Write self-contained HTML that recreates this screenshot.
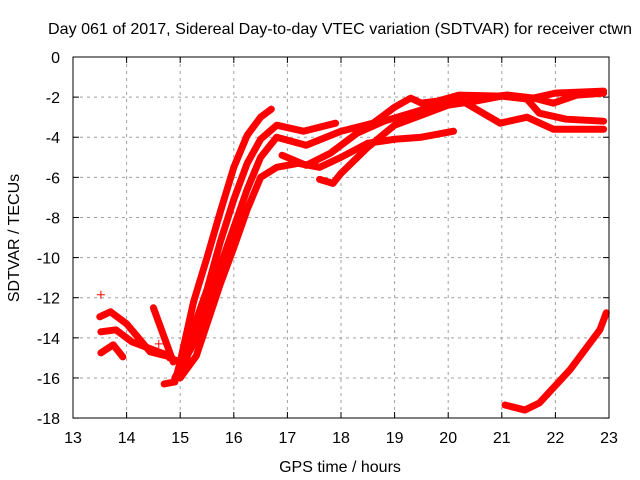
<!DOCTYPE html>
<html><head><meta charset="utf-8"><style>
body{margin:0;background:#fff}
svg{display:block;font-family:"Liberation Sans",sans-serif}
</style></head><body>
<svg id="chart" width="640" height="480">
<text x="340" y="34" font-size="16" text-anchor="middle" textLength="584" lengthAdjust="spacingAndGlyphs">Day 061 of 2017, Sidereal Day-to-day VTEC variation (SDTVAR) for receiver ctwn</text>
<text x="340" y="472" font-size="16" text-anchor="middle">GPS time / hours</text>
<text transform="translate(19,238) rotate(-90)" font-size="16" text-anchor="middle">SDTVAR / TECUs</text>
<g id="grid"></g>
<g id="series"></g>
<rect x="73" y="57" width="536" height="361" fill="none" stroke="#000"/>
<g id="ticks"></g>
</svg>
<script>
const xTicks=[13,14,15,16,17,18,19,20,21,22,23];
const yTicks=[0,-2,-4,-6,-8,-10,-12,-14,-16,-18];
const seriesA=[[14.7,-16.3],[14.9,-16.2],[15.0,-15.2],[15.25,-12.2],[15.5,-10],[15.75,-7.7],[16.0,-5.5],[16.25,-3.9],[16.5,-3.0],[16.7,-2.6]];
const seriesB=[[14.8,-15],[15.1,-15.3],[15.25,-13.5],[15.5,-11.6],[15.75,-9.2],[16.0,-7.1],[16.25,-5.3],[16.5,-4.1],[16.8,-3.4],[17.3,-3.7],[17.9,-3.3]];
const seriesC=[[14.9,-16],[15.25,-14.3],[15.5,-12.5],[15.75,-10.4],[16.0,-8.5],[16.25,-6.6],[16.5,-5.0],[16.8,-4.0],[17.35,-4.4],[18.0,-3.7],[18.6,-3.3],[19.0,-2.5],[19.3,-2.05],[19.5,-2.3],[19.8,-2.2],[20.2,-1.9],[21,-1.95],[21.5,-2.1],[22,-1.8],[22.9,-1.7]];
const seriesD=[[15.0,-16],[15.3,-14.9],[15.5,-13.3],[15.75,-11.3],[16.0,-9.5],[16.25,-7.6],[16.5,-6.0],[16.8,-5.5],[17.2,-5.3],[17.6,-5.5],[18.0,-5.0],[18.5,-4.3],[19,-4.1],[19.5,-4.0],[20.1,-3.7]];
const seriesE=[[16.9,-4.9],[17.35,-5.4],[17.8,-4.8],[18.3,-3.8],[18.8,-3.2],[19.3,-2.8],[19.8,-2.4],[20.2,-2.1],[20.97,-3.3],[21.47,-3.0],[21.96,-3.6],[22.9,-3.6]];
const seriesF=[[17.6,-6.1],[17.85,-6.3],[18.0,-5.8],[18.5,-4.5],[19.0,-3.4],[19.5,-2.9],[20.0,-2.4],[20.5,-2.2],[21.1,-1.9],[21.47,-2.1],[21.7,-2.8],[22.2,-3.1],[22.9,-3.2]];
const seriesG=[[20.4,-2.1],[21.1,-1.9],[21.6,-2.05],[21.96,-2.3],[22.4,-1.9],[22.9,-1.8]];
const seriesH=[[13.5,-12.95],[13.7,-12.7],[14.0,-13.3],[14.44,-14.7],[14.74,-14.9]];
const seriesI=[[13.52,-13.7],[13.8,-13.6],[14.1,-14.2],[14.5,-14.6],[14.8,-14.9]];
const seriesJ=[[13.52,-14.75],[13.75,-14.35],[13.93,-14.95]];
const seriesK=[[14.5,-12.5],[14.87,-15.2]];
const seriesL=[[21.06,-17.35],[21.43,-17.6],[21.7,-17.25],[22.27,-15.6],[22.83,-13.6],[22.95,-12.75]];
const singlePoints=[[13.52,-11.85],[14.6,-14.3]];
const allSeries=[seriesA,seriesB,seriesC,seriesD,seriesE,seriesF,seriesG,seriesH,seriesI,seriesJ,seriesK,seriesL];
const NS="http://www.w3.org/2000/svg";
const sx=h=>73+(h-13)*53.6, sy=v=>57-v*20.06;
const grid=document.getElementById('grid'),ticks=document.getElementById('ticks'),ser=document.getElementById('series');
function mk(tag,attrs,parent){const e=document.createElementNS(NS,tag);for(const k in attrs)e.setAttribute(k,attrs[k]);parent.appendChild(e);return e;}
xTicks.forEach(t=>{const x=sx(t);
 if(t>13&&t<23){const g=mk('line',{x1:x,x2:x,y1:57,y2:418,stroke:'#a0a0a0','stroke-dasharray':'3,4'},grid);
 
 }
 const a=mk('line',{x1:x,x2:x,y1:418,y2:412,stroke:'#000'},ticks);
 
 
 mk('line',{x1:x,x2:x,y1:57,y2:63,stroke:'#000'},ticks);
 const l=mk('text',{x:x,y:443,'font-size':16,'text-anchor':'middle'},ticks);l.textContent=t;
 
 
});
yTicks.forEach(t=>{const y=sy(t);
 if(t<0&&t>-18){const g=mk('line',{x1:73,x2:609,y1:y,y2:y,stroke:'#a0a0a0','stroke-dasharray':'3,4'},grid);
 
 }
 const a=mk('line',{x1:73,x2:79,y1:y,y2:y,stroke:'#000'},ticks);
 
 
 mk('line',{x1:603,x2:609,y1:y,y2:y,stroke:'#000'},ticks);
 const l=mk('text',{x:60,y:y+6,'font-size':16,'text-anchor':'end'},ticks);l.textContent=t;
 
 
});
allSeries.forEach((s,i)=>{
 const p=mk('polyline',{points:s.map(d=>sx(d[0])+','+sy(d[1])).join(' '),fill:'none',stroke:'#ff0000','stroke-width':7,'stroke-linejoin':'round','stroke-linecap':'round'},ser);
 
 
});
singlePoints.forEach(d=>{const x=sx(d[0]),y=sy(d[1]);
 const p=mk('path',{d:`M${x-4},${y}H${x+4}M${x},${y-4}V${y+4}`,stroke:'#ff0000','stroke-width':1},ser);
 
 
});
</script>
</body></html>
